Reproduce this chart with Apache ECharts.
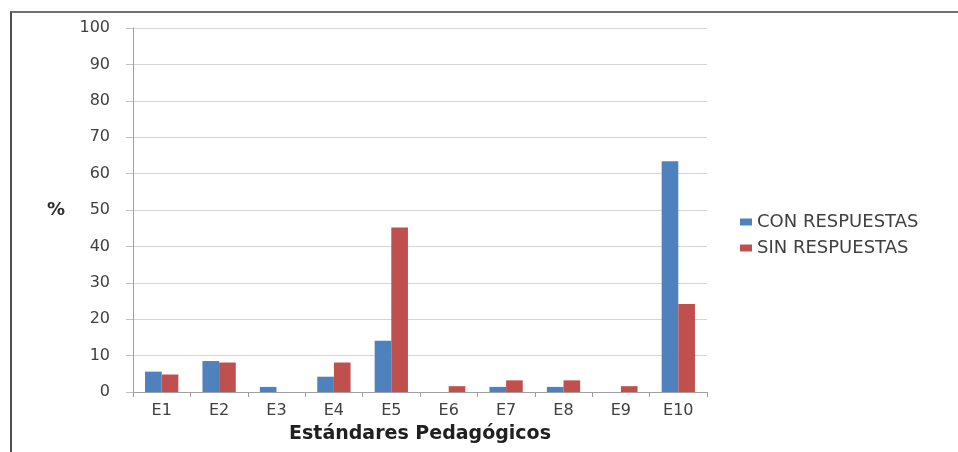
<!DOCTYPE html>
<html>
<head>
<meta charset="utf-8">
<script src="https://cdn.jsdelivr.net/npm/echarts@6/dist/echarts.min.js"></script>
<style>
  html, body { margin: 0; padding: 0; background: #fff; }
  #wrap { position: relative; width: 958px; height: 452px; overflow: hidden; }
  #frame { position: absolute; left: 10px; top: 11px; right: -10px; bottom: -10px;
           border-left: 2px solid #505050; border-top: 2px solid #707070; }
  #chart { position: absolute; left: 0; top: 0; width: 958px; height: 452px; }
</style>
</head>
<body>
<div id="wrap">
  <div id="frame"></div>
  <div id="chart"></div>
</div>
<script>
const categories = ['E1', 'E2', 'E3', 'E4', 'E5', 'E6', 'E7', 'E8', 'E9', 'E10'];
const conRespuestas = [5.6, 8.5, 1.4, 4.2, 14.1, 0, 1.4, 1.4, 0, 63.4];
const sinRespuestas = [4.8, 8.1, 0, 8.1, 45.2, 1.6, 3.2, 3.2, 1.6, 24.2];
const seriesNames = ['CON RESPUESTAS', 'SIN RESPUESTAS'];
const yTicks = { min: 0, max: 100, interval: 10 };

const font = 'DejaVu Sans';
const chart = echarts.init(document.getElementById('chart'), null, { renderer: 'canvas' });
chart.setOption({
  animation: false,
  backgroundColor: 'transparent',
  textStyle: { fontFamily: font },
  grid: { left: 133, right: 251, top: 28, bottom: 60, containLabel: false },
  legend: {
    orient: 'vertical',
    left: 740,
    top: 213,
    padding: 0,
    itemWidth: 12,
    itemHeight: 7,
    itemGap: 8,
    icon: 'rect',
    textStyle: { fontFamily: font, fontSize: 18, color: '#404040' },
    data: seriesNames
  },
  xAxis: {
    type: 'category',
    data: categories,
    name: 'Estándares Pedagógicos',
    nameLocation: 'middle',
    nameGap: 33,
    nameTextStyle: { fontFamily: font, fontSize: 19, fontWeight: 'bold', color: '#202020' },
    axisLine: { lineStyle: { color: '#a0a0a0', width: 1 } },
    axisTick: { show: true, length: 5, lineStyle: { color: '#a0a0a0' } },
    axisLabel: { margin: 11, fontSize: 16, color: '#404040', fontFamily: font },
    splitLine: { show: false }
  },
  yAxis: {
    type: 'value',
    min: yTicks.min,
    max: yTicks.max,
    interval: yTicks.interval,
    name: '%',
    nameLocation: 'middle',
    nameRotate: 0,
    nameGap: 68,
    nameTextStyle: { fontFamily: font, fontSize: 18, fontWeight: 'bold', color: '#303030' },
    axisLine: { show: true, lineStyle: { color: '#a0a0a0', width: 1 } },
    axisTick: { show: true, length: 7, lineStyle: { color: '#c0c0c0' } },
    axisLabel: { margin: 23, fontSize: 16, color: '#404040', fontFamily: font },
    splitLine: { show: true, lineStyle: { color: '#d4d4d4', width: 1 } }
  },
  series: [
    {
      name: seriesNames[0],
      type: 'bar',
      data: conRespuestas,
      itemStyle: { color: '#4F81BD' },
      barGap: '0%',
      barCategoryGap: '42%'
    },
    {
      name: seriesNames[1],
      type: 'bar',
      data: sinRespuestas,
      itemStyle: { color: '#C0504D' },
      barGap: '0%',
      barCategoryGap: '42%'
    }
  ]
});
</script>
</body>
</html>
